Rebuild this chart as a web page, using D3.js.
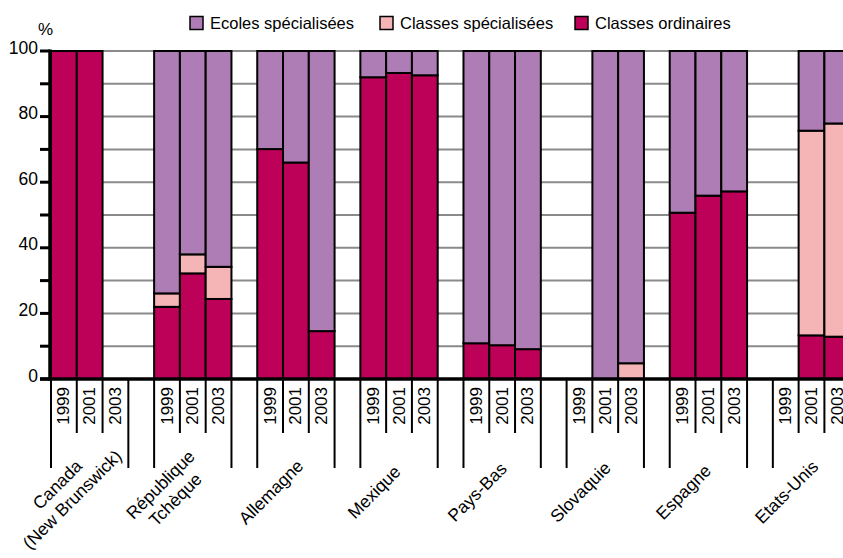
<!DOCTYPE html>
<html>
<head>
<meta charset="utf-8">
<script src="https://cdn.jsdelivr.net/npm/d3@7"></script>
<style>
html,body{margin:0;padding:0;background:#fff;overflow:hidden;}
text{font-family:"Liberation Sans",Arial,sans-serif;fill:#000;}
</style>
</head>
<body>
<svg id="chart" width="843" height="558"></svg>
<script>
// ---- data ----
const countries = [
  ["Canada", "(New Brunswick)"],
  ["République", "Tchèque"],
  ["Allemagne"],
  ["Mexique"],
  ["Pays-Bas"],
  ["Slovaquie"],
  ["Espagne"],
  ["Etats-Unis"]
];
const years = ["1999", "2001", "2003"];
const seriesNames = ["Classes ordinaires", "Classes spécialisées", "Ecoles spécialisées"];
const legendOrder = ["Ecoles spécialisées", "Classes spécialisées", "Classes ordinaires"];
// values per country, per year (null = no data)
const classesOrdinaires = [
  [100, 100, null],
  [22.0, 32.2, 24.4],
  [70.1, 66.0, 14.6],
  [92.0, 93.3, 92.6],
  [10.9, 10.3, 9.1],
  [null, 0, 0],
  [50.7, 55.9, 57.2],
  [null, 13.3, 12.9]
];
const classesSpecialisees = [
  [0, 0, null],
  [4.1, 5.8, 9.8],
  [0, 0, 0],
  [0, 0, 0],
  [0, 0, 0],
  [null, 0, 4.8],
  [0, 0, 0],
  [null, 62.4, 65.0]
];
const ecolesSpecialisees = [
  [0, 0, null],
  [73.9, 62.0, 65.8],
  [29.9, 34.0, 85.4],
  [8.0, 6.7, 7.4],
  [89.1, 89.7, 90.9],
  [null, 100, 95.2],
  [49.3, 44.1, 42.8],
  [null, 24.3, 22.1]
];
const yTicks = [0, 10, 20, 30, 40, 50, 60, 70, 80, 90, 100];
const yLabels = [0, 20, 40, 60, 80, 100];

// ---- setup ----
const colors = {
  "Classes ordinaires": "#bd0058",
  "Classes spécialisées": "#f5b4b6",
  "Ecoles spécialisées": "#af7db5"
};
const seriesData = {
  "Classes ordinaires": classesOrdinaires,
  "Classes spécialisées": classesSpecialisees,
  "Ecoles spécialisées": ecolesSpecialisees
};

const svg = d3.select("#chart");
const slots = [];
countries.forEach((c, ci) => {
  years.forEach(y => slots.push(ci + "|" + y));
  slots.push(ci + "|gap");
});
const x = d3.scaleBand().domain(slots).range([51, 51 + 32 * 25.78]).padding(0);
const y = d3.scaleLinear().domain([0, 100]).range([379, 51]);

// gridlines
svg.append("g").selectAll("line").data(yTicks.filter(t => t > 0)).join("line")
  .attr("x1", 51).attr("x2", 900)
  .attr("y1", d => y(d)).attr("y2", d => y(d))
  .attr("stroke", "#8a8a8a").attr("stroke-width", 2);

// stacked bars
const records = [];
countries.forEach((c, ci) => {
  years.forEach((yr, yi) => {
    let base = 0;
    seriesNames.forEach(s => {
      const v = seriesData[s][ci][yi];
      if (v === null || v === undefined) return;
      if (v > 0) records.push({slot: ci + "|" + yr, s, y0: base, y1: base + v});
      base += v;
    });
  });
});
svg.append("g").selectAll("rect").data(records).join("rect")
  .attr("x", d => x(d.slot))
  .attr("width", x.bandwidth())
  .attr("y", d => y(d.y1))
  .attr("height", d => y(d.y0) - y(d.y1))
  .attr("fill", d => colors[d.s])
  .attr("stroke", "#000").attr("stroke-width", 2);

// y axis
const yAxis = svg.append("g");
yAxis.append("line").attr("x1", 50).attr("x2", 50).attr("y1", y(100) - 1.5).attr("y2", y(0) + 1.5)
  .attr("stroke", "#000").attr("stroke-width", 3.5);
yAxis.selectAll("line.tick").data(yTicks).join("line").attr("class", "tick")
  .attr("x1", 40).attr("x2", 50).attr("y1", d => y(d)).attr("y2", d => y(d))
  .attr("stroke", "#000").attr("stroke-width", 3);
yAxis.selectAll("text").data(yLabels).join("text")
  .attr("x", 38).attr("y", d => y(d) + 2.5)
  .attr("text-anchor", "end").attr("font-size", 17.5)
  .text(d => d);
svg.append("text").attr("x", 38).attr("y", 35).attr("font-size", 17).text("%");

// x baseline
svg.append("line").attr("x1", 40).attr("x2", 900).attr("y1", y(0)).attr("y2", y(0))
  .attr("stroke", "#000").attr("stroke-width", 3.5);

// x label separators and year labels
const xl = svg.append("g");
countries.forEach((c, ci) => {
  const first = x(ci + "|" + years[0]);
  const last = x(ci + "|" + years[years.length - 1]) + x.bandwidth();
  xl.append("line").attr("x1", first).attr("x2", first).attr("y1", y(0)).attr("y2", 468)
    .attr("stroke", "#000").attr("stroke-width", 2);
  xl.append("line").attr("x1", last).attr("x2", last).attr("y1", y(0)).attr("y2", 468)
    .attr("stroke", "#000").attr("stroke-width", 2);
  years.slice(1).forEach(yr => {
    const xx = x(ci + "|" + yr);
    xl.append("line").attr("x1", xx).attr("x2", xx).attr("y1", y(0)).attr("y2", 433)
      .attr("stroke", "#000").attr("stroke-width", 2);
  });
  years.forEach(yr => {
    const cx = x(ci + "|" + yr) + x.bandwidth() / 2;
    xl.append("text")
      .attr("transform", `translate(${cx},387) rotate(-90)`)
      .attr("text-anchor", "end").attr("dominant-baseline", "central")
      .attr("font-size", 17).text(yr);
  });
  // country label
  const gc = (first + last) / 2 - 25;
  const t = xl.append("text")
    .attr("transform", `translate(${gc},492) rotate(-45)`)
    .attr("text-anchor", "middle").attr("font-size", 17.5);
  const n = c.length;
  c.forEach((line, li) => {
    t.append("tspan").attr("x", 0)
      .attr("y", (li - (n - 1) / 2) * 21)
      .attr("dy", "0.35em").text(line);
  });
});

// legend
const legX = [190, 380, 575];
const leg = svg.append("g");
legendOrder.forEach((s, i) => {
  leg.append("rect").attr("x", legX[i]).attr("y", 16.5).attr("width", 13).attr("height", 13)
    .attr("fill", colors[s]).attr("stroke", "#000").attr("stroke-width", 1.5);
  leg.append("text").attr("x", legX[i] + 20).attr("y", 29).attr("font-size", 16.5).text(s);
});
</script>
</body>
</html>
